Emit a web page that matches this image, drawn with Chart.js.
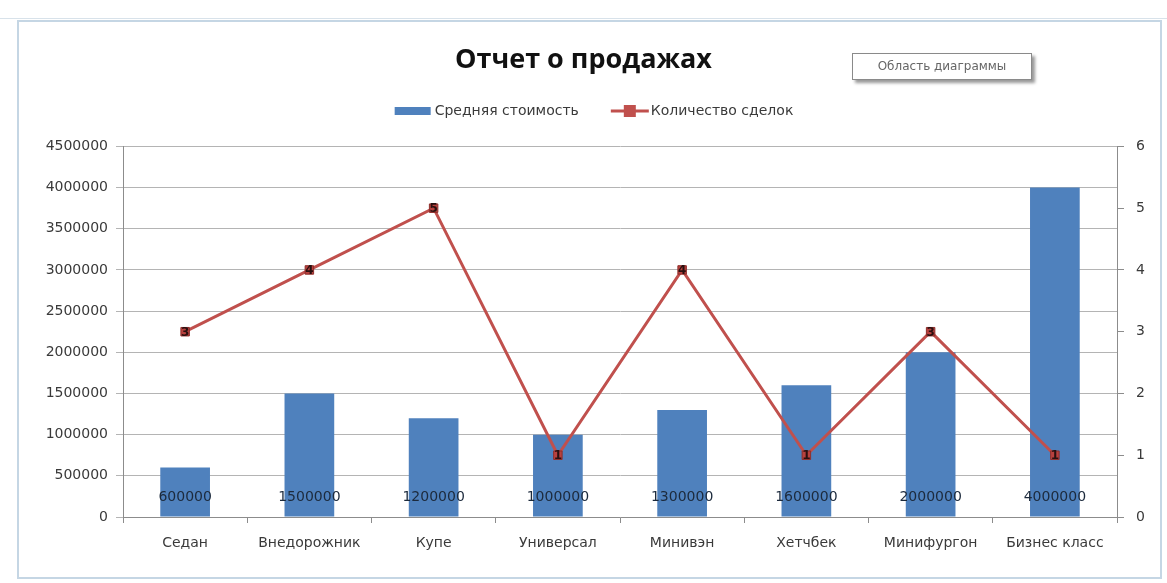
<!DOCTYPE html>
<html>
<head>
<meta charset="utf-8">
<script src="https://cdn.jsdelivr.net/npm/chart.js@4"></script>
<style>
  body { margin: 0; background: #fff; font-family: "DejaVu Sans", sans-serif; }
  #wrap { position: relative; width: 1167px; height: 583px; }
  #frame { position: absolute; left: 17px; top: 20px; width: 1141px; height: 555px; border: 2px solid #c5d6e4; }
  #sheet { position: absolute; left: 0; top: 10px; width: 1167px; height: 8px; border-bottom: 1px solid #d8e2ea; }
  #tip { position: absolute; left: 852px; top: 53px; width: 178px; height: 25px; border: 1px solid #8a8a8a;
         background: #fff; box-shadow: 3px 3px 3px #999; font-size: 12px; color: #666; line-height: 25px; text-align: center; }
  canvas { position: absolute; left: 0; top: 0; }
</style>
</head>
<body>
<div id="wrap">
  <div id="sheet"></div>
  <div id="frame"></div>
  <canvas id="salesChart" width="1167" height="583"></canvas>
  <div id="tip">Область диаграммы</div>
</div>
<script>
const categories = ["Седан", "Внедорожник", "Купе", "Универсал", "Минивэн", "Хетчбек", "Минифургон", "Бизнес класс"];
const avgPrice = [600000, 1500000, 1200000, 1000000, 1300000, 1600000, 2000000, 4000000];
const dealCount = [3, 4, 5, 1, 4, 1, 3, 1];
const seriesNames = ["Средняя стоимость", "Количество сделок"];

const BLUE = "#4f81bd";
const RED = "#c0504d";
const TEXT = "#3a3a3a";
const FONT = "DejaVu Sans";

// labels on bars and on line points
const valueLabels = {
  id: "valueLabels",
  afterDatasetsDraw(chart) {
    const ctx = chart.ctx;
    const y0 = chart.scales.y.getPixelForValue(0);
    ctx.save();
    ctx.textAlign = "center";
    ctx.textBaseline = "middle";
    ctx.font = "14px '" + FONT + "'";
    ctx.fillStyle = "#1c2a3c";
    chart.getDatasetMeta(0).data.forEach((el, i) => {
      ctx.fillText(avgPrice[i], el.x, y0 - 20);
    });
    ctx.font = "bold 12px '" + FONT + "'";
    ctx.fillStyle = "#2a1010";
    chart.getDatasetMeta(1).data.forEach((el, i) => {
      ctx.fillText(dealCount[i], el.x, el.y + 1);
    });
    ctx.restore();
  }
};

// excel-like legend
const excelLegend = {
  id: "excelLegend",
  afterDraw(chart) {
    const ctx = chart.ctx;
    const y = 111;
    ctx.save();
    ctx.font = "14px '" + FONT + "'";
    ctx.textBaseline = "middle";
    const w1 = ctx.measureText(seriesNames[0]).width;
    const w2 = ctx.measureText(seriesNames[1]).width;
    const total = 36 + 4 + w1 + 32 + 38 + 2 + w2;
    let x = 594 - total / 2;
    ctx.fillStyle = BLUE;
    ctx.fillRect(x, y - 4, 36, 8);
    x += 40;
    ctx.fillStyle = TEXT;
    ctx.fillText(seriesNames[0], x, y);
    x += w1 + 32;
    ctx.strokeStyle = RED;
    ctx.lineWidth = 3;
    ctx.beginPath();
    ctx.moveTo(x, y);
    ctx.lineTo(x + 38, y);
    ctx.stroke();
    ctx.fillStyle = RED;
    ctx.fillRect(x + 13, y - 6, 12, 12);
    x += 40;
    ctx.fillStyle = TEXT;
    ctx.fillText(seriesNames[1], x, y);
    ctx.restore();
  }
};

new Chart(document.getElementById("salesChart"), {
  data: {
    labels: categories,
    datasets: [
      { type: "bar", label: seriesNames[0], data: avgPrice, yAxisID: "y", order: 1,
        backgroundColor: BLUE, barPercentage: 1, categoryPercentage: 0.4 },
      { type: "line", label: seriesNames[1], data: dealCount, yAxisID: "y1", order: 0,
        borderColor: RED, borderWidth: 3, pointStyle: "rect", pointRadius: 6,
        pointBackgroundColor: "#b8413e", pointBorderColor: "#8e2f2c", pointBorderWidth: 1, tension: 0 }
    ]
  },
  options: {
    responsive: false,
    animation: false,
    plugins: {
      legend: { display: false },
      tooltip: { enabled: false },
      title: { display: true, text: "Отчет о продажах", color: "#111",
               font: { family: "Open Sans", size: 27, weight: "bold" }, padding: { top: 44, bottom: 70 } }
    },
    scales: {
      x: {
        offset: true,
        grid: { offset: true, drawOnChartArea: false, tickLength: 6, color: "#8c8c8c" },
        border: { color: "#8c8c8c" },
        ticks: { color: TEXT, font: { family: FONT, size: 14 }, padding: 12 },
        afterFit(s) { s.height = 66; }
      },
      y: {
        position: "left", min: 0, max: 4500000,
        ticks: { stepSize: 500000, color: TEXT, font: { family: FONT, size: 14 }, padding: 8,
                 callback: v => String(v) },
        grid: { color: "#b4b4b4", tickLength: 7 },
        border: { color: "#8c8c8c" },
        afterFit(s) { s.width = 123; }
      },
      y1: {
        position: "right", min: 0, max: 6,
        ticks: { stepSize: 1, color: TEXT, font: { family: FONT, size: 14 }, padding: 12 },
        grid: { drawOnChartArea: false, tickLength: 7, color: "#8c8c8c" },
        border: { color: "#8c8c8c" },
        afterFit(s) { s.width = 50; }
      }
    }
  },
  plugins: [valueLabels, excelLegend]
});
</script>
</body>
</html>
